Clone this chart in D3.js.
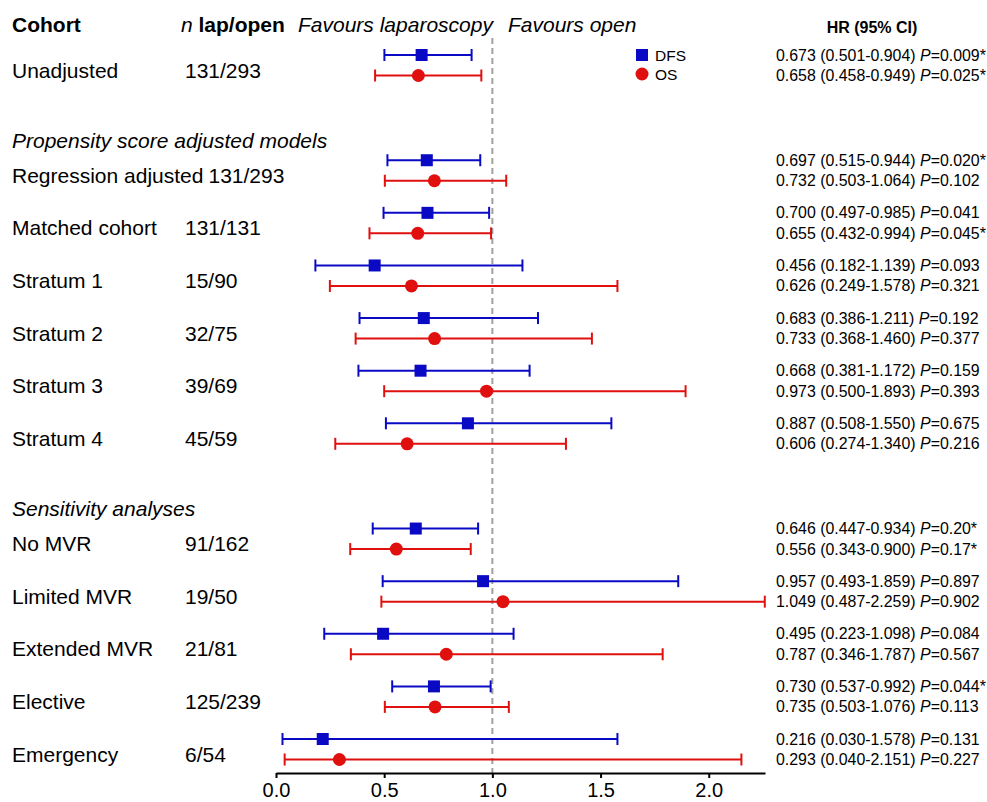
<!DOCTYPE html>
<html>
<head>
<meta charset="utf-8">
<script src="https://cdn.jsdelivr.net/npm/d3@7"></script>
<style>
  body { margin: 0; background: #fff; }
  svg { font-family: Arial, "Liberation Sans", Helvetica, sans-serif; }
</style>
</head>
<body>
<div id="chart"></div>
<script>
// cohorts and their row slot (gaps are for section headings)
var cohorts = ["Unadjusted", "Regression adjusted", "Matched cohort", "Stratum 1", "Stratum 2", "Stratum 3", "Stratum 4",
               "No MVR", "Limited MVR", "Extended MVR", "Elective", "Emergency"];
var nLapOpen = ["131/293", "131/293", "131/131", "15/90", "32/75", "39/69", "45/59",
                "91/162", "19/50", "21/81", "125/239", "6/54"];
var rowSlot = [0, 2, 3, 4, 5, 6, 7, 9, 10, 11, 12, 13];

var sections = [{name: "Propensity score adjusted models", slot: 1}, {name: "Sensitivity analyses", slot: 8}];

// DFS hazard ratios
var dfsHR = [0.673, 0.697, 0.700, 0.456, 0.683, 0.668, 0.887, 0.646, 0.957, 0.495, 0.730, 0.216];
var dfsLo = [0.501, 0.515, 0.497, 0.182, 0.386, 0.381, 0.508, 0.447, 0.493, 0.223, 0.537, 0.030];
var dfsHi = [0.904, 0.944, 0.985, 1.139, 1.211, 1.172, 1.550, 0.934, 1.859, 1.098, 0.992, 1.578];
var dfsP  = ["0.009*", "0.020*", "0.041", "0.093", "0.192", "0.159", "0.675", "0.20*", "0.897", "0.084", "0.044*", "0.131"];

// OS hazard ratios
var osHR = [0.658, 0.732, 0.655, 0.626, 0.733, 0.973, 0.606, 0.556, 1.049, 0.787, 0.735, 0.293];
var osLo = [0.458, 0.503, 0.432, 0.249, 0.368, 0.500, 0.274, 0.343, 0.487, 0.346, 0.503, 0.040];
var osHi = [0.949, 1.064, 0.994, 1.578, 1.460, 1.893, 1.340, 0.900, 2.259, 1.787, 1.076, 2.151];
var osP  = ["0.025*", "0.102", "0.045*", "0.321", "0.377", "0.393", "0.216", "0.17*", "0.902", "0.567", "0.113", "0.227"];

var xTicks = [0, 0.5, 1, 1.5, 2];

var blue = "#0a0ac4", red = "#e0100e";

var width = 987, height = 802;
var svg = d3.select("#chart").append("svg")
    .attr("width", width)
    .attr("height", height);

var x = d3.scaleLinear().domain([0, 2.26]).range([276, 765]);
var y = d3.scaleLinear().domain([0, 13]).range([55, 739]);
var osOffset = 20.5;
var axisY = 773;
var bigFont = "21px";

var fmt = d3.format(".3f");

// build series from the arrays
var series = [
  {name: "DFS", color: blue, shape: "square", off: 0, hr: dfsHR, lo: dfsLo, hi: dfsHi, p: dfsP},
  {name: "OS", color: red, shape: "circle", off: osOffset, hr: osHR, lo: osLo, hi: osHi, p: osP}
];

//// headers
svg.append("text").attr("x", 12).attr("y", 32)
    .style("font-size", bigFont).style("font-weight", "bold").text("Cohort");

var nh = svg.append("text").attr("x", 181).attr("y", 32).style("font-size", bigFont);
nh.append("tspan").style("font-style", "italic").text("n ");
nh.append("tspan").style("font-weight", "bold").text("lap/open");

svg.append("text").attr("x", 298).attr("y", 32)
    .style("font-size", bigFont).style("font-style", "italic").text("Favours laparoscopy");
svg.append("text").attr("x", 508).attr("y", 32)
    .style("font-size", bigFont).style("font-style", "italic").text("Favours open");

svg.append("text").attr("x", 872).attr("y", 33).attr("text-anchor", "middle")
    .style("font-size", "16px").style("font-weight", "bold").text("HR (95% CI)");

//// section headings
svg.selectAll(".section")
    .data(sections)
    .enter().append("text")
    .attr("class", "section")
    .attr("x", 12)
    .attr("y", function(d){ return y(d.slot) + 40; })
    .style("font-size", bigFont)
    .style("font-style", "italic")
    .text(function(d){ return d.name; });

//// row labels + n
var rows = cohorts.map(function(c, i){ return {label: c, n: nLapOpen[i], slot: rowSlot[i], i: i}; });

var labels = svg.selectAll(".rowlabel")
    .data(rows)
    .enter().append("text")
    .attr("class", "rowlabel")
    .attr("x", 12)
    .attr("y", function(d){ return y(d.slot) + 22.5; })
    .style("font-size", bigFont)
    .text(function(d){ return d.label; });

// n column - pushed right if the label is too long (regression adjusted)
labels.each(function(d){ d.labelEnd = 12 + this.getComputedTextLength(); });

svg.selectAll(".ncol")
    .data(rows)
    .enter().append("text")
    .attr("class", "ncol")
    .attr("x", function(d){ return Math.max(185, d.labelEnd + 5); })
    .attr("y", function(d){ return y(d.slot) + 22.5; })
    .style("font-size", bigFont)
    .text(function(d){ return d.n; });

//// reference line at HR = 1
svg.append("line")
    .attr("x1", x(1)).attr("x2", x(1))
    .attr("y1", 38).attr("y2", axisY)
    .style("stroke", "#a0a0a0")
    .style("stroke-width", 2)
    .style("stroke-dasharray", "6,4");

//// intervals and points
var capH = 6;
series.forEach(function(s){
    var pts = rows.map(function(r){
        return {yy: y(r.slot) + s.off, hr: s.hr[r.i], lo: s.lo[r.i], hi: s.hi[r.i], p: s.p[r.i]};
    });
    var g = svg.append("g").attr("class", "series-" + s.name);

    g.selectAll(".ci").data(pts).enter().append("line")
        .attr("x1", function(d){ return x(d.lo); })
        .attr("x2", function(d){ return x(d.hi); })
        .attr("y1", function(d){ return d.yy; })
        .attr("y2", function(d){ return d.yy; })
        .style("stroke", s.color).style("stroke-width", 2);

    ["lo", "hi"].forEach(function(k){
        g.selectAll(".cap-" + k).data(pts).enter().append("line")
            .attr("x1", function(d){ return x(d[k]); })
            .attr("x2", function(d){ return x(d[k]); })
            .attr("y1", function(d){ return d.yy - capH; })
            .attr("y2", function(d){ return d.yy + capH; })
            .style("stroke", s.color).style("stroke-width", 2);
    });

    if (s.shape == "square") {
        g.selectAll(".pt").data(pts).enter().append("rect")
            .attr("x", function(d){ return x(d.hr) - 6; })
            .attr("y", function(d){ return d.yy - 6; })
            .attr("width", 12).attr("height", 12)
            .style("fill", s.color);
    } else {
        g.selectAll(".pt").data(pts).enter().append("circle")
            .attr("cx", function(d){ return x(d.hr); })
            .attr("cy", function(d){ return d.yy; })
            .attr("r", 6.5)
            .style("fill", s.color);
    }

    // HR text on the right
    var t = svg.selectAll(".hrtext-" + s.name).data(pts).enter().append("text")
        .attr("x", 776)
        .attr("y", function(d){ return d.yy + 5.5; })
        .style("font-size", "15.9px");
    t.append("tspan").text(function(d){ return fmt(d.hr) + " (" + fmt(d.lo) + "-" + fmt(d.hi) + ") "; });
    t.append("tspan").style("font-style", "italic").text("P");
    t.append("tspan").text(function(d){ return "=" + d.p; });
});

//// axis
var axis = svg.append("g")
    .attr("transform", "translate(0," + axisY + ")")
    .call(d3.axisBottom(x).tickValues(xTicks).tickFormat(d3.format(".1f"))
        .tickSize(5).tickSizeOuter(0).tickPadding(5));
axis.select(".domain").style("stroke", "#000").style("stroke-width", 2);
axis.selectAll(".tick line").style("stroke", "#000").style("stroke-width", 2);
axis.selectAll(".tick text").style("font-size", "20px").style("fill", "#000")
    .style("font-family", "Arial, 'Liberation Sans', Helvetica, sans-serif");

//// legend
var legend = svg.append("g").attr("class", "legend");
legend.append("rect").attr("x", 636).attr("y", 49).attr("width", 12).attr("height", 12).style("fill", blue);
legend.append("text").attr("x", 655).attr("y", 61).style("font-size", "15.5px").text("DFS");
legend.append("circle").attr("cx", 642).attr("cy", 74).attr("r", 6.5).style("fill", red);
legend.append("text").attr("x", 655).attr("y", 80).style("font-size", "15.5px").text("OS");
</script>
</body>
</html>
